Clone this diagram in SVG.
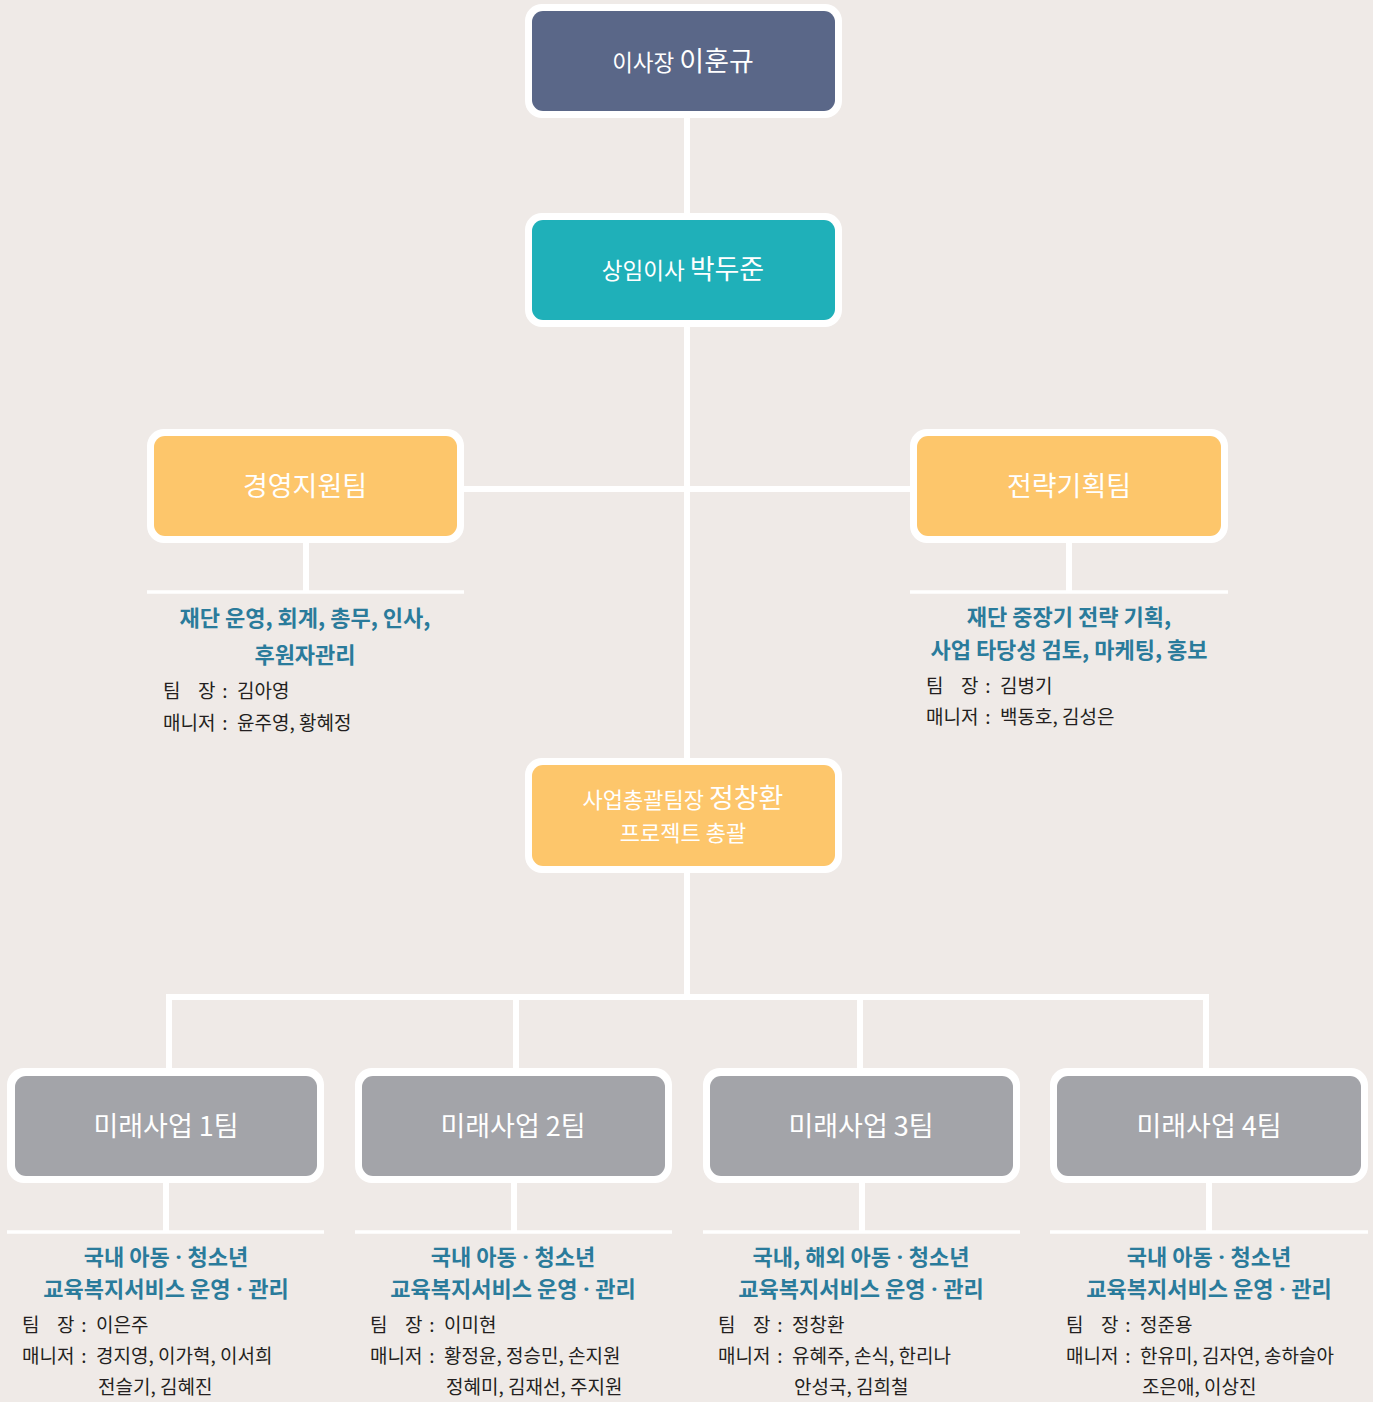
<svg xmlns="http://www.w3.org/2000/svg" width="1373" height="1402" viewBox="0 0 1373 1402">
<style>
.bg{fill:#efeae7}
.frame{fill:#ffffff}
.t{font-family:"Noto Sans CJK KR","Noto Sans",sans-serif;fill:#ffffff;text-anchor:middle}
.b{font-family:"Noto Sans CJK KR","Noto Sans",sans-serif;fill:#2a7b9b;font-weight:700;font-size:22px;text-anchor:middle}
.d{font-family:"Noto Sans","Noto Sans CJK KR",sans-serif}
.k{font-family:"Noto Sans CJK KR","Noto Sans",sans-serif;fill:#231f20;font-size:19px}
.m{text-anchor:middle}
.c{stroke:#ffffff;stroke-width:6;fill:none}
.s{stroke:#ffffff;stroke-width:3.5;fill:none}
</style>
<rect class="bg" x="0" y="0" width="1373" height="1402"/>
<g id="connectors">
<line class="c" x1="687" y1="115" x2="687" y2="216"/>
<line class="c" x1="687" y1="323" x2="687" y2="761"/>
<line class="c" x1="461" y1="489" x2="913" y2="489"/>
<line class="c" x1="306" y1="540" x2="306" y2="592"/>
<line class="c" x1="1069" y1="540" x2="1069" y2="592"/>
<line class="s" x1="147" y1="592" x2="464" y2="592"/>
<line class="s" x1="910" y1="592" x2="1228" y2="592"/>
<line class="c" x1="687" y1="870" x2="687" y2="997"/>
<line class="c" x1="166" y1="997" x2="1209" y2="997"/>
<line class="c" x1="169" y1="997" x2="169" y2="1071"/>
<line class="c" x1="516" y1="997" x2="516" y2="1071"/>
<line class="c" x1="860" y1="997" x2="860" y2="1071"/>
<line class="c" x1="1206" y1="997" x2="1206" y2="1071"/>
<line class="c" x1="166" y1="1180" x2="166" y2="1232"/>
<line class="c" x1="514" y1="1180" x2="514" y2="1232"/>
<line class="c" x1="862" y1="1180" x2="862" y2="1232"/>
<line class="c" x1="1209" y1="1180" x2="1209" y2="1232"/>
<line class="s" x1="7" y1="1232" x2="324" y2="1232"/>
<line class="s" x1="355" y1="1232" x2="672" y2="1232"/>
<line class="s" x1="703" y1="1232" x2="1020" y2="1232"/>
<line class="s" x1="1050" y1="1232" x2="1368" y2="1232"/>
</g>
<g id="chairman">
<rect class="frame" x="525" y="4" width="317" height="114" rx="17"/>
<rect x="532" y="11" width="303" height="100" rx="11" fill="#5a6788"/>
<text class="t" x="683" y="71"><tspan font-size="22.5">이사장 </tspan><tspan font-size="27">이훈규</tspan></text>
</g>
<g id="director">
<rect class="frame" x="525" y="213" width="317" height="114" rx="17"/>
<rect x="532" y="220" width="303" height="100" rx="11" fill="#1fb0b9"/>
<text class="t" x="683" y="279"><tspan font-size="22.5">상임이사 </tspan><tspan font-size="27">박두준</tspan></text>
</g>
<g id="mgmt">
<rect class="frame" x="147" y="429" width="317" height="114" rx="17"/>
<rect x="154" y="436" width="303" height="100" rx="11" fill="#fdc66b"/>
<text class="t" x="305" y="496" font-size="27">경영지원팀</text>
<text class="b" x="305" y="626">재단 운영, 회계, 총무, 인사,</text>
<text class="b" x="305" y="663">후원자관리</text>
<text class="k" x="163" y="698">팀</text><text class="k" x="198" y="698">장</text><text class="k m" x="225" y="698">:</text><text class="k" x="237" y="698">김아영</text>
<text class="k" x="163" y="730">매니저</text><text class="k m" x="225" y="730">:</text><text class="k" x="237" y="730">윤주영, 황혜정</text>
</g>
<g id="strategy">
<rect class="frame" x="910" y="429" width="318" height="114" rx="17"/>
<rect x="917" y="436" width="304" height="100" rx="11" fill="#fdc66b"/>
<text class="t" x="1069" y="496" font-size="27">전략기획팀</text>
<text class="b" x="1069" y="625">재단 중장기 전략 기획,</text>
<text class="b" x="1069" y="658">사업 타당성 검토, 마케팅, 홍보</text>
<text class="k" x="926" y="693">팀</text><text class="k" x="961" y="693">장</text><text class="k m" x="988" y="693">:</text><text class="k" x="1000" y="693">김병기</text>
<text class="k" x="926" y="724">매니저</text><text class="k m" x="988" y="724">:</text><text class="k" x="1000" y="724">백동호, 김성은</text>
</g>
<g id="business">
<rect class="frame" x="525" y="758" width="317" height="115" rx="17"/>
<rect x="532" y="765" width="303" height="101" rx="11" fill="#fdc66b"/>
<text class="t" x="683" y="808"><tspan font-size="22">사업총괄팀장 </tspan><tspan font-size="27">정창환</tspan></text>
<text class="t" x="683" y="841" font-size="22">프로젝트 총괄</text>
</g>
<g id="team1">
<rect class="frame" x="7" y="1068" width="317" height="115" rx="17"/>
<rect x="15" y="1076" width="302" height="100" rx="11" fill="#a3a4a9"/>
<text class="t" x="166" y="1136" font-size="27">미래사업 1팀</text>
<text class="b" x="166" y="1265">국내 아동<tspan class="d"> · </tspan>청소년</text>
<text class="b" x="166" y="1297">교육복지서비스 운영<tspan class="d"> · </tspan>관리</text>
<text class="k" x="22" y="1332">팀</text><text class="k" x="57" y="1332">장</text><text class="k m" x="84" y="1332">:</text><text class="k" x="96" y="1332">이은주</text>
<text class="k" x="22" y="1363">매니저</text><text class="k m" x="84" y="1363">:</text><text class="k" x="96" y="1363">경지영, 이가혁, 이서희</text>
<text class="k" x="98" y="1394">전슬기, 김혜진</text>
</g>
<g id="team2">
<rect class="frame" x="355" y="1068" width="317" height="115" rx="17"/>
<rect x="362" y="1076" width="303" height="100" rx="11" fill="#a3a4a9"/>
<text class="t" x="513" y="1136" font-size="27">미래사업 2팀</text>
<text class="b" x="513" y="1265">국내 아동<tspan class="d"> · </tspan>청소년</text>
<text class="b" x="513" y="1297">교육복지서비스 운영<tspan class="d"> · </tspan>관리</text>
<text class="k" x="370" y="1332">팀</text><text class="k" x="405" y="1332">장</text><text class="k m" x="432" y="1332">:</text><text class="k" x="444" y="1332">이미현</text>
<text class="k" x="370" y="1363">매니저</text><text class="k m" x="432" y="1363">:</text><text class="k" x="444" y="1363">황정윤, 정승민, 손지원</text>
<text class="k" x="446" y="1394">정혜미, 김재선, 주지원</text>
</g>
<g id="team3">
<rect class="frame" x="703" y="1068" width="317" height="115" rx="17"/>
<rect x="710" y="1076" width="303" height="100" rx="11" fill="#a3a4a9"/>
<text class="t" x="861" y="1136" font-size="27">미래사업 3팀</text>
<text class="b" x="861" y="1265">국내, 해외 아동<tspan class="d"> · </tspan>청소년</text>
<text class="b" x="861" y="1297">교육복지서비스 운영<tspan class="d"> · </tspan>관리</text>
<text class="k" x="718" y="1332">팀</text><text class="k" x="753" y="1332">장</text><text class="k m" x="780" y="1332">:</text><text class="k" x="792" y="1332">정창환</text>
<text class="k" x="718" y="1363">매니저</text><text class="k m" x="780" y="1363">:</text><text class="k" x="792" y="1363">유혜주, 손식, 한리나</text>
<text class="k" x="794" y="1394">안성국, 김희철</text>
</g>
<g id="team4">
<rect class="frame" x="1050" y="1068" width="318" height="115" rx="17"/>
<rect x="1057" y="1076" width="304" height="100" rx="11" fill="#a3a4a9"/>
<text class="t" x="1209" y="1136" font-size="27">미래사업 4팀</text>
<text class="b" x="1209" y="1265">국내 아동<tspan class="d"> · </tspan>청소년</text>
<text class="b" x="1209" y="1297">교육복지서비스 운영<tspan class="d"> · </tspan>관리</text>
<text class="k" x="1066" y="1332">팀</text><text class="k" x="1101" y="1332">장</text><text class="k m" x="1128" y="1332">:</text><text class="k" x="1140" y="1332">정준용</text>
<text class="k" x="1066" y="1363">매니저</text><text class="k m" x="1128" y="1363">:</text><text class="k" x="1140" y="1363">한유미, 김자연, 송하슬아</text>
<text class="k" x="1142" y="1394">조은애, 이상진</text>
</g>
</svg>
